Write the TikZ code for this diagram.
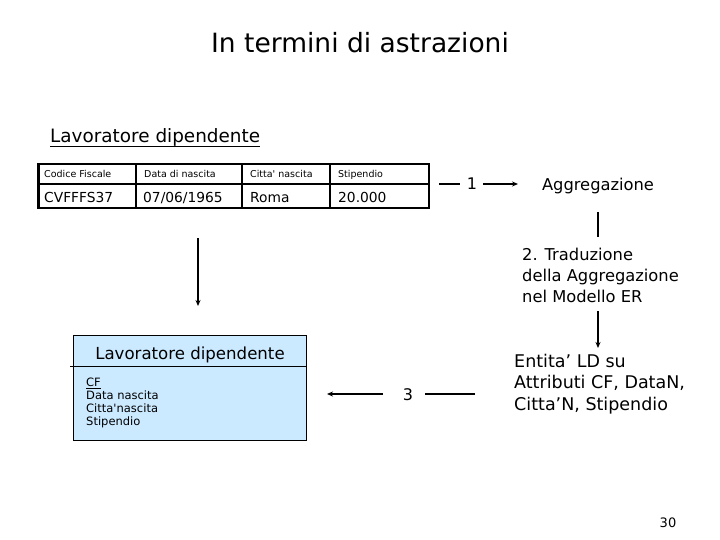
\documentclass[tikz,border=0pt]{standalone}
\usepackage{fontspec}
\setmainfont{DejaVu Sans}
\usetikzlibrary{arrows.meta}
\newcommand{\fs}[1]{\fontsize{#1}{17}\selectfont}
\tikzset{
  txt/.style={inner sep=0pt, anchor=base west},
  hd/.style={txt, font=\fontsize{9.5}{11}\selectfont},
  dt/.style={txt, font=\fontsize{13.8}{16}\selectfont},
  rt/.style={txt, font=\fontsize{16.3}{19}\selectfont},
  et/.style={txt, font=\fontsize{17.5}{21}\selectfont},
  attrtxt/.style={txt, font=\fontsize{11.5}{13}\selectfont},
  conn/.style={line width=1.2pt},
  arr/.style={line width=1.2pt, -{Stealth[length=6pt,width=5pt]}},
}
\definecolor{erblue}{RGB}{204,234,255}
\begin{document}
\begin{tikzpicture}[x=1pt,y=-1pt]
\useasboundingbox (0,0) rectangle (720,540);
% title
\node[inner sep=0pt, anchor=base, font=\fontsize{26.5}{30}\selectfont] (title) at (360,53) {In termini di astrazioni};
\node[txt, font=\fontsize{18.4}{22}\selectfont] (ld) at (50,143) {Lavoratore dipendente};
\draw[line width=1pt] (50,146.5) -- (ld.east |- 0,146.5);
% table
\draw[line width=1.5pt] (136,164) -- (136,208) (242,164) -- (242,208) (330,164) -- (330,208) (38.5,184) -- (429,184);
\draw[line width=2.5pt] (38.5,164) rectangle (429,208);
\node[hd] (h1) at (44,177.5) {Codice Fiscale};
\node[hd] (h2) at (144,177.5) {Data di nascita};
\node[hd] (h3) at (250,177.5) {Citta\textquotesingle\ nascita};
\node[hd] (h4) at (338,177.5) {Stipendio};
\node[dt] (d1) at (44,203) {CVFFFS37};
\node[dt] (d2) at (143,203) {07/06/1965};
\node[dt] (d3) at (250,203) {Roma};
\node[dt] (d4) at (338,203) {20.000};
% step 1
\node[txt, anchor=base, font=\fs{16}] (one) at (472,190) {1};
\node[txt, anchor=base, font=\fs{16.3}] (agg) at (598,191) {Aggregazione};
\coordinate (s1a) at (439,184);
\coordinate (s1b) at (460,184);
\coordinate (s1c) at (483,184);
\coordinate (s1d) at (518,184);
\draw[conn] (s1a) -- (s1b);
\draw[arr] (s1c) -- (s1d);
% step 2
\node[rt] (tr1) at (522,260) {2. Traduzione};
\node[rt] (tr2) at (522,281) {della Aggregazione};
\node[rt] (tr3) at (522,302) {nel Modello ER};
\coordinate (v2a) at (598,212);
\coordinate (v2b) at (598,237);
\draw[line width=1.6pt] (v2a) -- (v2b);
\coordinate (v3a) at (598,311);
\coordinate (v3b) at (598,348);
\draw[arr] (v3a) -- (v3b);
\node[et] (en1) at (514,367) {Entita’ LD su};
\node[et] (en2) at (514,388.5) {Attributi CF, DataN,};
\node[et] (en3) at (514,410) {Citta’N, Stipendio};
% step 3
\node[txt, anchor=base, font=\fs{16}] (three) at (408,400) {3};
\coordinate (s3a) at (475,394);
\coordinate (s3b) at (425,394);
\coordinate (s3c) at (383,394);
\coordinate (s3d) at (327,394);
\draw[conn] (s3a) -- (s3b);
\draw[arr] (s3c) -- (s3d);
% down arrow from table to ER box
\coordinate (va) at (198,238);
\coordinate (vb) at (198,306);
\draw[arr] (va) -- (vb);
% ER box
\node[draw=black, line width=0.8pt, fill=erblue, minimum width=233pt, minimum height=105pt, inner sep=0pt] (er) at (189.5,387.5) {};
\draw[line width=0.8pt] (70,366) -- (er.east |- 0,366);
\node[inner sep=0pt, anchor=base, font=\fontsize{16.6}{19}\selectfont] (ert) at (190,359) {Lavoratore dipendente};
\node[attrtxt] (a1) at (86,386) {CF};
\draw[line width=0.6pt] (86,388.5) -- (a1.east |- 0,388.5);
\node[attrtxt] (a2) at (86,399.5) {Data nascita};
\node[attrtxt] (a3) at (86,412.5) {Citta\textquotesingle nascita};
\node[attrtxt] (a4) at (86,425.5) {Stipendio};
% page number
\node[inner sep=0pt, anchor=base, font=\fs{13}] (pg) at (668,527) {30};
\end{tikzpicture}
\end{document}
